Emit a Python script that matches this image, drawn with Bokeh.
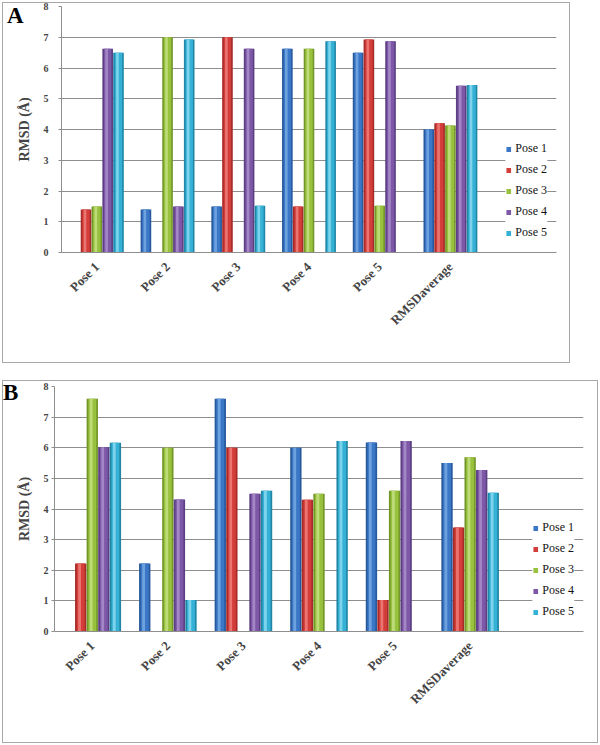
import math
from bokeh.plotting import figure
from bokeh.models import (ColumnDataSource, FactorRange, Range1d, Legend, LegendItem, Div)
from bokeh.transform import dodge
from bokeh.embed import file_html
from bokeh.resources import INLINE

# ---------------- data ----------------
categories = ["Pose 1", "Pose 2", "Pose 3", "Pose 4", "Pose 5", "RMSDaverage"]
series_names = ["Pose 1", "Pose 2", "Pose 3", "Pose 4", "Pose 5"]
y_ticks = [0, 1, 2, 3, 4, 5, 6, 7, 8]

a_pose1 = [0, 1.40, 1.50, 6.63, 6.50, 4.00]
a_pose2 = [1.40, 0, 7.00, 1.50, 6.93, 4.20]
a_pose3 = [1.50, 7.00, 0, 6.63, 1.52, 4.13]
a_pose4 = [6.63, 1.50, 6.63, 0, 6.87, 5.42]
a_pose5 = [6.50, 6.93, 1.52, 6.87, 0, 5.45]

b_pose1 = [0, 2.22, 7.60, 6.00, 6.17, 5.50]
b_pose2 = [2.22, 0, 6.00, 4.30, 1.03, 3.40]
b_pose3 = [7.60, 6.00, 0, 4.50, 4.60, 5.69]
b_pose4 = [6.02, 4.31, 4.50, 0, 6.22, 5.27]
b_pose5 = [6.16, 1.03, 4.60, 6.22, 0, 4.53]

base = ["#3B77C7", "#D33D3A", "#98C13D", "#7D58A6", "#35B1D5"]
dark = ["#28599C", "#A62B29", "#73962A", "#5C3E84", "#2086A6"]
light = ["#6EA2DF", "#EA746F", "#BDDB78", "#A386C5", "#7ED3EC"]
GRID = "#8e8e8e"
SERIF = "Liberation Serif"
BW = 0.15
STEP = 0.153


def make_panel(values, W, H, margin, tick_standoff):
    # an extra blank slot on the right of the category axis holds the legend
    p = figure(x_range=FactorRange(factors=categories + [" "], range_padding=0),
               y_range=Range1d(0, 8), width=W, height=H,
               output_backend="svg", toolbar_location=None, margin=margin,
               outline_line_color=None, background_fill_color="white",
               border_fill_color=None)
    data = {"cat": categories}
    for i, v in enumerate(values):
        data[f"s{i}"] = v
    src = ColumnDataSource(data)
    items = []
    for i, name in enumerate(series_names):
        off = (i - 2) * STEP
        p.vbar(x=dodge("cat", off, range=p.x_range), top=f"s{i}", bottom=0,
               width=BW, source=src, fill_color=dark[i], line_color=None)
        r = p.vbar(x=dodge("cat", off, range=p.x_range), top=f"s{i}", bottom=0,
                   width=BW * 0.7, source=src, fill_color=base[i], line_color=None)
        p.vbar(x=dodge("cat", off - BW * 0.1, range=p.x_range), top=f"s{i}", bottom=0,
               width=BW * 0.25, source=src, fill_color=light[i], line_color=None)
        items.append(LegendItem(label=name, renderers=[r]))

    p.xgrid.grid_line_color = None
    p.ygrid.grid_line_color = GRID

    p.yaxis.ticker = y_ticks
    p.yaxis.axis_label = "RMSD (Å)"
    p.yaxis.axis_label_text_font = SERIF
    p.yaxis.axis_label_text_font_style = "bold"
    p.yaxis.axis_label_text_font_size = "14px"
    p.yaxis.axis_label_standoff = 9
    p.yaxis.major_label_text_font = SERIF
    p.yaxis.major_label_text_font_style = "bold"
    p.yaxis.major_label_text_font_size = "10px"
    p.yaxis.major_label_standoff = tick_standoff
    p.yaxis.major_tick_in = 0
    p.yaxis.major_tick_out = 3
    p.yaxis.major_tick_line_color = GRID
    p.yaxis.minor_tick_line_color = None
    p.yaxis.axis_line_color = GRID

    p.xaxis.axis_line_color = GRID
    p.xaxis.major_tick_line_color = None
    p.xaxis.minor_tick_line_color = None
    p.xaxis.major_label_orientation = math.pi / 4
    p.xaxis.major_label_text_font = SERIF
    p.xaxis.major_label_text_font_style = "bold"
    p.xaxis.major_label_text_font_size = "13px"
    p.xaxis.major_label_standoff = 6

    legend = Legend(items=items, location="bottom_right", padding=3, margin=9,
                    spacing=0, label_height=21, glyph_width=6, glyph_height=6,
                    label_standoff=4, border_line_color=None,
                    background_fill_color="white", background_fill_alpha=1,
                    label_text_font=SERIF, label_text_font_size="12px",
                    label_text_color="#111111")
    p.add_layout(legend, "center")
    return p


def box(left, top, w, h):
    return Div(text="", width=w, height=h, margin=0,
               styles={"position": "absolute", "left": f"{left}px", "top": f"{top}px",
                       "width": f"{w}px", "height": f"{h}px", "margin": "0",
                       "border": "1px solid #a8a8a8", "box-sizing": "border-box"})


def letter(txt, left, top):
    return Div(text=txt, margin=0,
               styles={"position": "absolute", "left": f"{left}px", "top": f"{top}px",
                       "font-family": SERIF, "font-size": "23px", "font-weight": "bold",
                       "line-height": "1", "color": "black", "margin": "0"})


# in-flow figures; margins are (top, right, bottom, left)
pA = make_panel([a_pose1, a_pose2, a_pose3, a_pose4, a_pose5],
                548, 334, (1, 0, 0, 13), 10)
pB = make_panel([b_pose1, b_pose2, b_pose3, b_pose4, b_pose5],
                575, 333, (46, 0, 0, 13), 3)

boxA = box(2, 2, 568, 361)
letA = letter("A", 7, 4)
boxB = box(2, 380, 596, 363)
letB = letter("B", 3, 381)

open("out.html", "w").write(file_html([pA, pB, boxA, letA, boxB, letB], INLINE))
